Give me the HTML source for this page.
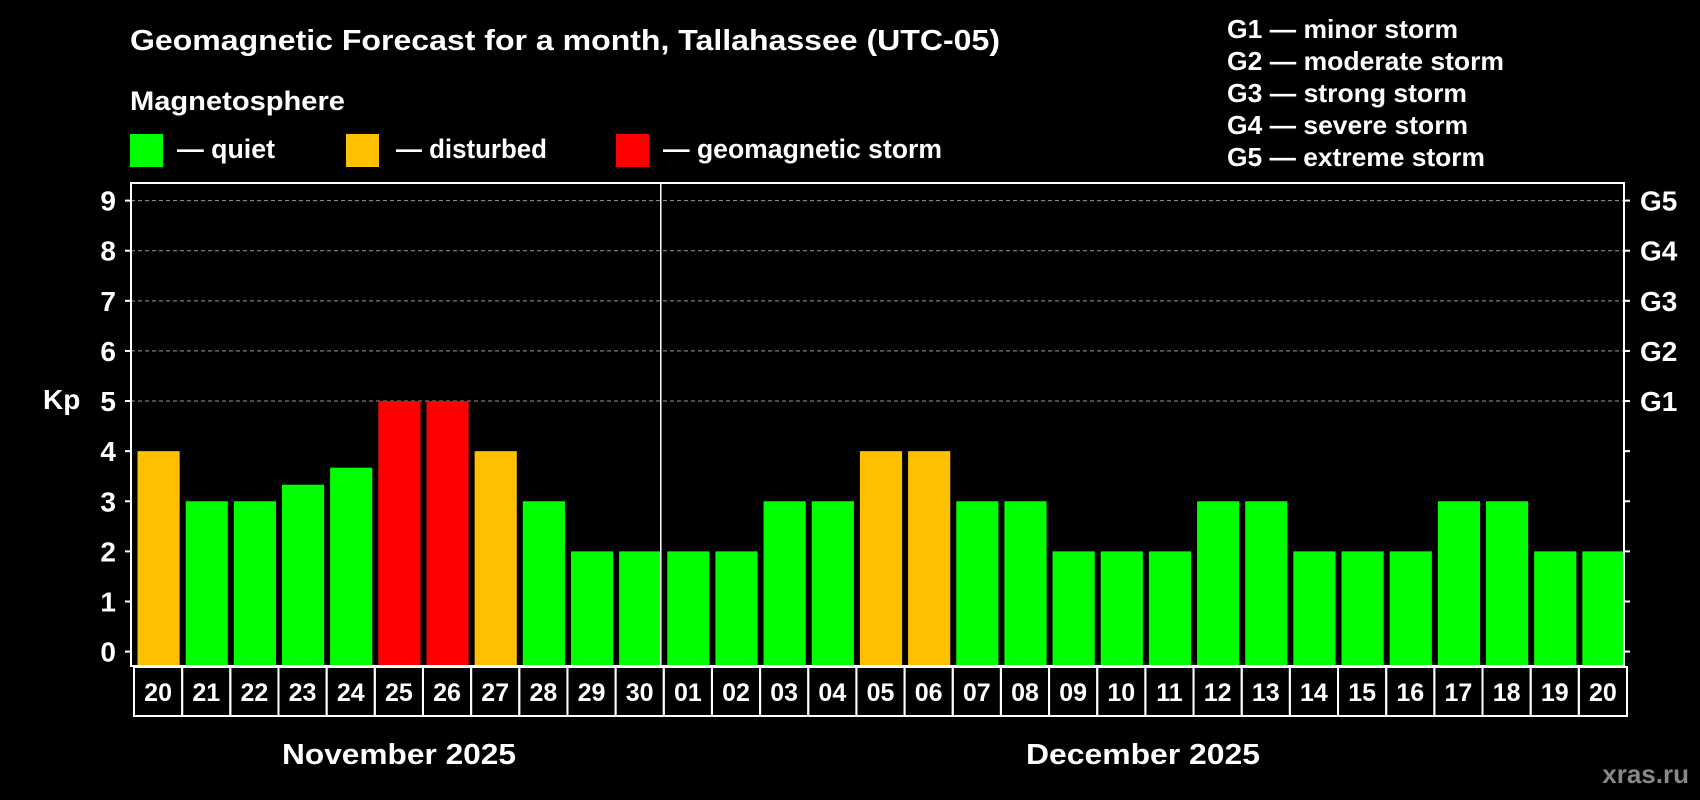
<!DOCTYPE html>
<html><head><meta charset="utf-8"><style>
html,body{margin:0;padding:0;background:#000;}
svg{display:block;font-family:"Liberation Sans",Arial,sans-serif;font-weight:bold;}
</style></head><body>
<svg id="chart" width="1700" height="800" viewBox="0 0 1700 800">
<rect width="1700" height="800" fill="#000"/>
<text x="130" y="50" fill="#fff" font-size="29" textLength="870" lengthAdjust="spacingAndGlyphs">Geomagnetic Forecast for a month, Tallahassee (UTC-05)</text>
<text x="130" y="110" fill="#fff" font-size="27" textLength="215" lengthAdjust="spacingAndGlyphs">Magnetosphere</text>
<rect x="130" y="134" width="33" height="33" fill="#00ff00"/>
<text x="177" y="158" fill="#fff" font-size="27" textLength="98" lengthAdjust="spacingAndGlyphs">— quiet</text>
<rect x="346" y="134" width="33" height="33" fill="#ffc000"/>
<text x="396" y="158" fill="#fff" font-size="27" textLength="151" lengthAdjust="spacingAndGlyphs">— disturbed</text>
<rect x="616" y="134" width="33" height="33" fill="#ff0000"/>
<text x="663" y="158" fill="#fff" font-size="27" textLength="279" lengthAdjust="spacingAndGlyphs">— geomagnetic storm</text>
<g fill="#fff" font-size="26">
<text x="1227" y="38" textLength="231" lengthAdjust="spacingAndGlyphs">G1 — minor storm</text>
<text x="1227" y="70" textLength="277" lengthAdjust="spacingAndGlyphs">G2 — moderate storm</text>
<text x="1227" y="102" textLength="240" lengthAdjust="spacingAndGlyphs">G3 — strong storm</text>
<text x="1227" y="134" textLength="241" lengthAdjust="spacingAndGlyphs">G4 — severe storm</text>
<text x="1227" y="166" textLength="258" lengthAdjust="spacingAndGlyphs">G5 — extreme storm</text>
</g>
<g id="grid"></g>
<g id="bars"></g>
<g id="axes"></g>
<text x="43" y="409" fill="#fff" font-size="28">Kp</text>
<text x="282" y="764" fill="#fff" font-size="29" textLength="234" lengthAdjust="spacingAndGlyphs">November 2025</text>
<text x="1026" y="764" fill="#fff" font-size="29" textLength="234" lengthAdjust="spacingAndGlyphs">December 2025</text>
<text x="1689" y="783" fill="#888" font-size="26" text-anchor="end">xras.ru</text>
</svg>
<script>
const days = ["20","21","22","23","24","25","26","27","28","29","30","01","02","03","04","05","06","07","08","09","10","11","12","13","14","15","16","17","18","19","20"];
const kpValues = [4,3,3,3.33,3.67,5,5,4,3,2,2,2,2,3,3,4,4,3,3,2,2,2,3,3,2,2,2,3,3,2,2];
const yTicks = [0,1,2,3,4,5,6,7,8,9];
const gLabels = ["G1","G2","G3","G4","G5"];
const gLevels = [5,6,7,8,9];
const monthBreakIndex = 11;

const NS = "http://www.w3.org/2000/svg";
const L = 131, R = 1624, T = 183, B = 666;
const y0 = 651.6, unit = (651.6 - 200.6) / 9;
const slot = (R - L) / days.length;
const yScale = v => y0 - v * unit;
const xScale = i => L + i * slot;
function mk(tag, attrs, parent, text) {
  const e = document.createElementNS(NS, tag);
  for (const k in attrs) e.setAttribute(k, attrs[k]);
  if (text !== undefined) e.textContent = text;
  parent.appendChild(e);
  return e;
}
const grid = document.getElementById('grid');
const bars = document.getElementById('bars');
const axes = document.getElementById('axes');
gLevels.forEach(v => {
  const l = mk('line', {x1: L, x2: R, y1: yScale(v), y2: yScale(v), stroke: '#999', 'stroke-width': 1, 'stroke-dasharray': '4 3'}, grid);
  
  
});
kpValues.forEach((v, i) => {
  const color = v >= 5 ? '#ff0000' : (v >= 4 ? '#ffc000' : '#00ff00');
  const r = mk('rect', {x: xScale(i) + 6.5, y: yScale(v), width: slot - 6, height: B - yScale(v), fill: color}, bars);
  
  
});
const frame = mk('rect', {x: L, y: T, width: R - L, height: B - T, fill: 'none', stroke: '#fff', 'stroke-width': 2}, axes);


const div = mk('line', {x1: xScale(monthBreakIndex), x2: xScale(monthBreakIndex), y1: T, y2: B, stroke: '#fff', 'stroke-width': 1.5}, axes);


yTicks.forEach(v => {
  const y = yScale(v);
  mk('line', {x1: L - 6, x2: L, y1: y, y2: y, stroke: '#fff', 'stroke-width': 2}, axes);
  mk('line', {x1: R, x2: R + 6, y1: y, y2: y, stroke: '#fff', 'stroke-width': 2}, axes);
  const t = mk('text', {x: 116, y: y + 10, fill: '#fff', 'font-size': 28, 'text-anchor': 'end'}, axes, String(v));
  
  
});
gLabels.forEach((g, i) => {
  const t = mk('text', {x: 1640, y: yScale(gLevels[i]) + 10, fill: '#fff', 'font-size': 28}, axes, g);
  
  
});
days.forEach((d, i) => {
  const x = xScale(i);
  const b = mk('rect', {x: x + 3, y: 667, width: slot, height: 49, fill: 'none', stroke: '#fff', 'stroke-width': 2}, axes);
  
  
  const t = mk('text', {x: x + 3 + slot / 2, y: 701, fill: '#fff', 'font-size': 25, 'text-anchor': 'middle'}, axes, d);
  
  
});
</script>
</body></html>
